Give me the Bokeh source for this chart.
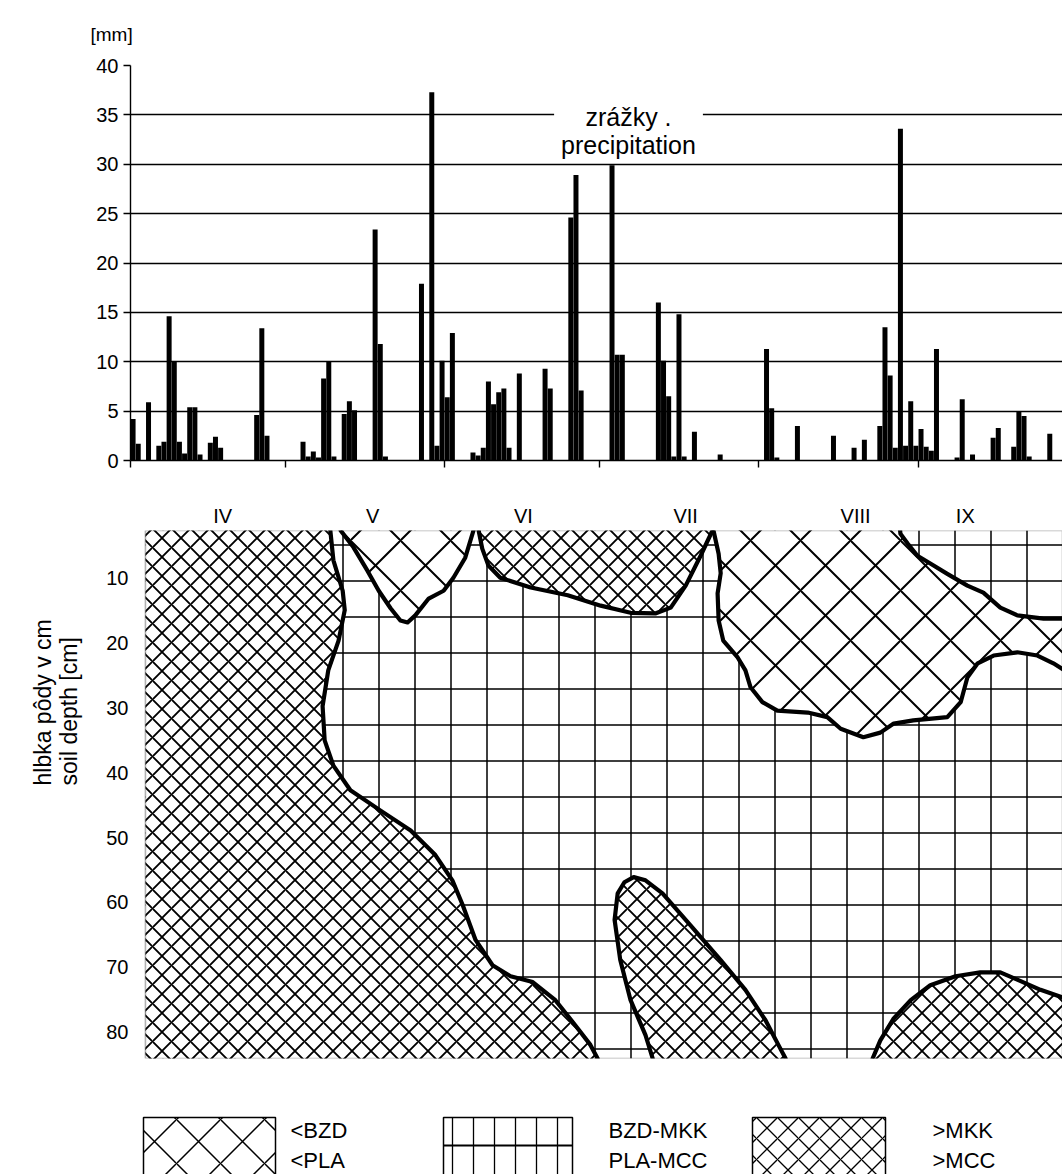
from bokeh.plotting import figure
from bokeh.models import (Range1d, FixedTicker, Label, BoxAnnotation, ColumnDataSource,
                          Title)
from bokeh.layouts import column
from bokeh.transform import dodge
from bokeh.core.properties import value
from bokeh.embed import file_html
from bokeh.resources import INLINE

FONT = "Liberation Sans"

# ---------------- data: daily precipitation (day 0 = 1 April) ----------------
rain_day = [0, 1, 3, 5, 6, 7, 8, 9, 10, 11, 12, 13, 15, 16, 17, 24, 25, 26,
            33, 34, 35, 36, 37, 38, 39, 41, 42, 43, 47, 48, 49, 56, 58, 59, 60,
            61, 62, 66, 67, 68, 69, 70, 71, 72, 73, 75, 80, 81, 85, 86, 87, 93,
            94, 95, 102, 103, 104, 105, 106, 107, 109, 114, 123, 124, 125, 129,
            136, 140, 142, 145, 146, 147, 148, 149, 150, 151, 152, 153, 154,
            155, 156, 160, 161, 163, 167, 168, 171, 172, 173, 174, 178]
rain_mm = [4.2, 1.7, 5.9, 1.5, 1.9, 14.6, 10.0, 1.9, 0.7, 5.4, 5.4, 0.6, 1.8,
           2.4, 1.3, 4.6, 13.4, 2.5, 1.9, 0.4, 0.9, 0.3, 8.3, 10.0, 0.4, 4.7,
           6.0, 5.1, 23.4, 11.8, 0.4, 17.9, 37.3, 1.5, 10.1, 6.4, 12.9, 0.8,
           0.5, 1.3, 8.0, 5.7, 6.9, 7.3, 1.3, 8.8, 9.3, 7.3, 24.6, 28.9, 7.1,
           29.9, 10.7, 10.7, 16.0, 10.1, 6.5, 0.4, 14.8, 0.4, 2.9, 0.6, 11.3,
           5.3, 0.3, 3.5, 2.5, 1.3, 2.1, 3.5, 13.5, 8.6, 1.3, 33.6, 1.5, 6.0,
           1.5, 3.2, 1.4, 1.0, 11.3, 0.3, 6.2, 0.6, 2.3, 3.3, 1.4, 4.9, 4.5,
           0.4, 2.7]
month_start_days = [0, 30, 61, 91, 122, 153]
rain_ticks = [0, 5, 10, 15, 20, 25, 30, 35, 40]

# ---------------- data: soil depth zones ----------------
depth_ticks = [10, 20, 30, 40, 50, 60, 70, 80]
month_labels = ["IV", "V", "VI", "VII", "VIII", "IX"]
month_label_days = [17.9, 47.0, 76.3, 107.8, 140.8, 162.1]
box_start_day = 2.9

# >MKK / >MCC zones (day, depth)
zoneA_day = [2.9, 38.6, 38.8, 39.4, 41.2, 41.6, 40.4, 38.4, 37.3, 37.7, 39.4, 42.7,
             48.5, 54.4, 59.2, 62.5, 64.5, 67.0, 70.3, 73.8, 78.1, 82.5, 86.4,
             89.3, 90.7, 92.0, 2.9]
zoneA_depth = [-2, -2, 2.6, 7.2, 11.9, 14.9, 19.6, 24.2, 29.7, 35.0, 38.9, 42.7,
               45.8, 48.9, 52.7, 56.6, 60.4, 65.8, 69.7, 71.4, 72.3, 75.1, 79.0,
               82.0, 84.1, 90, 90]
zoneC_day = [67.4, 67.6, 68.3, 69.5, 71.8, 77.7, 84.9, 91.3, 97.1, 101.9, 104.9,
             107.8, 110.7, 113.0, 113.4]
zoneC_depth = [-2, 2.6, 5.4, 8.0, 9.9, 11.4, 12.6, 14.2, 15.3, 15.4, 14.5, 11.1,
               6.5, 2.6, -2]
zoneE_day = [101.6, 101.4, 100.0, 97.1, 95.1, 94.0, 94.6, 95.9, 97.7, 100.0,
             103.3, 108.7, 114.6, 119.4, 123.3, 125.8, 127.2, 127.8]
zoneE_depth = [90, 84.1, 80.5, 75.1, 68.9, 62.7, 58.6, 56.9, 56.1, 56.6, 58.6,
               63.5, 68.9, 73.5, 78.2, 82.0, 84.1, 90]
zoneF_day = [143.6, 144.1, 145.6, 148.2, 151.5, 155.3, 160.2, 165.0, 168.9,
             172.4, 176.7, 181.4, 185, 185]
zoneF_depth = [90, 84.1, 81.3, 77.9, 75.1, 72.8, 71.4, 70.8, 70.8, 72.0, 73.5,
               74.8, 76, 90]

# <BZD / <PLA zones
zoneB_day = [40.6, 40.8, 43.3, 46.0, 48.2, 50.5, 52.4, 53.8, 55.3, 57.9, 60.8,
             62.7, 65.0, 66.6, 67.0]
zoneB_depth = [-2, 2.6, 5.2, 8.8, 11.9, 14.6, 16.5, 16.8, 15.7, 13.1, 11.9, 9.9,
               6.8, 2.6, -2]
zoneD_day = [113.0, 113.2, 114.2, 114.6, 114.0, 114.2, 115.1, 117.9, 119.4, 120.4,
             122.7, 125.6, 131.5, 135.3, 137.9, 142.3, 145.6, 148.2, 152.0, 158.6,
             161.2, 162.5, 164.5, 167.6, 172.2, 176.1, 179.2, 181.4, 185, 185,
             181.4, 177.3, 172.2, 168.9, 165.6, 162.5, 158.6, 155.3, 152.8, 150.9,
             149.5, 148.9]
zoneD_depth = [-2, 2.6, 6.2, 9.2, 12.3, 16.5, 19.6, 22.2, 24.2, 26.8, 29.1, 30.4,
               30.7, 31.4, 33.2, 34.5, 33.8, 32.4, 31.9, 31.4, 29.1, 25.3, 23.1,
               21.9, 21.4, 21.9, 23.1, 24.2, 26, 16.2, 16.2, 16.2, 15.7, 14.5,
               12.2, 11.1, 9.3, 7.7, 6.5, 4.6, 3.1, -2]

legend_line1 = ["<BZD", "BZD-MKK", ">MKK"]
legend_line2 = ["<PLA", "PLA-MCC", ">MCC"]

W = 1062
LEFT = 130

# ---------------- top: precipitation ----------------
p1 = figure(width=W, height=490, x_range=Range1d(0, (W - LEFT) / 5.15),
            y_range=Range1d(0, 40), title="[mm]",
            output_backend="svg", toolbar_location=None,
            min_border_left=LEFT, min_border_right=0, min_border_top=65,
            min_border_bottom=30)
p1.title.align = "left"
p1.title.offset = -40
p1.title.standoff = 41
p1.title.text_font = FONT
p1.title.text_font_size = "19px"
p1.title.text_font_style = "normal"
p1.title.text_color = "black"
p1.outline_line_color = None
p1.background_fill_color = "white"
src = ColumnDataSource(dict(day=rain_day, mm=rain_mm))
p1.vbar(x=dodge("day", 0.5, range=p1.x_range), top="mm", bottom=0, width=0.97,
        source=src, fill_color="black", line_color=None)

p1.xgrid.visible = False
p1.ygrid.grid_line_color = "black"
p1.ygrid.grid_line_width = 1.4
p1.yaxis.ticker = FixedTicker(ticks=rain_ticks)
p1.yaxis.major_label_text_font = FONT
p1.yaxis.major_label_text_font_size = "20px"
p1.yaxis.major_label_text_color = "black"
p1.yaxis.major_tick_out = 7
p1.yaxis.major_tick_in = 0
p1.yaxis.minor_tick_out = 0
p1.yaxis.minor_tick_in = 0
p1.yaxis.axis_line_color = "black"
p1.yaxis.axis_line_width = 1.4
p1.yaxis.major_tick_line_width = 1.4
p1.xaxis.ticker = FixedTicker(ticks=month_start_days)
p1.xaxis.major_label_overrides = {d: " " for d in month_start_days}
p1.xaxis.major_label_text_font_size = "8px"
p1.xaxis.major_tick_out = 7
p1.xaxis.major_tick_in = 0
p1.xaxis.minor_tick_out = 0
p1.xaxis.axis_line_color = "black"
p1.xaxis.axis_line_width = 1.6
p1.xaxis.major_tick_line_width = 1.4

p1.add_layout(Label(x=96.7, y=33.4, text="zrážky .\nprecipitation", text_font=FONT,
                    text_font_size="25px", text_align="center", text_baseline="middle",
                    text_line_height=1.0, text_color="black",
                    background_fill_color="white",
                    padding=dict(left=7, right=7, top=3, bottom=3)))

# ---------------- bottom: soil depth zones ----------------
p2 = figure(width=W, height=585, x_range=Range1d(0, (W - LEFT) / 5.15),
            y_range=Range1d(84.1, 2.6), x_axis_location="above",
            output_backend="svg", toolbar_location=None, title=None,
            min_border_left=LEFT, min_border_right=0, min_border_top=40,
            min_border_bottom=17)
p2.background_fill_color = "white"
p2.grid.visible = False
p2.outline_line_color = None

p2.add_layout(BoxAnnotation(left=box_start_day, fill_color=None, fill_alpha=0,
                            line_color=None, hatch_pattern="cross", hatch_scale=36,
                            hatch_weight=1.5, hatch_color="black", level="underlay"))

dense_xs = [zoneA_day, zoneC_day, zoneE_day, zoneF_day]
dense_ys = [zoneA_depth, zoneC_depth, zoneE_depth, zoneF_depth]
p2.patches(xs=dense_xs, ys=dense_ys, fill_color="white", hatch_pattern="diagonal_cross",
           hatch_scale=19, hatch_weight=1.9, hatch_color="black", line_color=None)
p2.patches(xs=[zoneB_day, zoneD_day], ys=[zoneB_depth, zoneD_depth],
           fill_color="white", hatch_pattern="diagonal_cross", hatch_scale=50,
           hatch_weight=2, hatch_color="black", line_color=None)
# zone boundaries (A without its closing edge along the box side)
p2.multi_line(xs=[zoneA_day[1:-1], zoneB_day, zoneC_day, zoneD_day, zoneE_day, zoneF_day],
              ys=[zoneA_depth[1:-1], zoneB_depth, zoneC_depth, zoneD_depth, zoneE_depth,
                  zoneF_depth],
              line_color="black", line_width=4.2, line_join="round")
p2.add_layout(BoxAnnotation(left=box_start_day, fill_color=None, fill_alpha=0,
                            line_color="black", line_width=1.6, level="overlay"))

p2.xaxis.ticker = FixedTicker(ticks=month_label_days)
p2.xaxis.major_label_overrides = {d: m for d, m in zip(month_label_days, month_labels)}
p2.xaxis.major_label_text_font = FONT
p2.xaxis.major_label_text_font_size = "20px"
p2.xaxis.major_label_text_color = "black"
p2.xaxis.major_tick_out = 0
p2.xaxis.major_tick_in = 0
p2.xaxis.minor_tick_out = 0
p2.xaxis.minor_tick_in = 0
p2.xaxis.axis_line_color = None
p2.xaxis.major_label_standoff = 4

p2.yaxis.ticker = FixedTicker(ticks=depth_ticks)
p2.yaxis.major_label_text_font = FONT
p2.yaxis.major_label_text_font_size = "20px"
p2.yaxis.major_label_text_color = "black"
p2.yaxis.major_tick_out = 0
p2.yaxis.major_tick_in = 0
p2.yaxis.minor_tick_out = 0
p2.yaxis.minor_tick_in = 0
p2.yaxis.axis_line_color = None
p2.yaxis.major_label_standoff = 2

p2.add_layout(Title(text="hlbka pôdy v cm\nsoil depth [cm]", align="left", offset=273,
                    standoff=43, text_font=FONT, text_font_size="23px",
                    text_font_style="normal", text_color="black"), "left")

# ---------------- legend ----------------
LH = 99
p3 = figure(width=W, height=LH, x_range=Range1d(LEFT, W), y_range=Range1d(0, LH),
            output_backend="svg", toolbar_location=None, title=None,
            x_axis_type=None, y_axis_type=None,
            min_border_left=LEFT, min_border_right=0, min_border_top=0, min_border_bottom=0)
p3.outline_line_color = None
p3.grid.visible = False
p3.quad(left=[143], right=[275], top=[57], bottom=[-3], fill_color="white",
        hatch_pattern="diagonal_cross", hatch_scale=44, hatch_weight=1.5,
        hatch_color="black", line_color="black", line_width=1.5)
p3.quad(left=[443], right=[572], top=[57], bottom=[-3], fill_color="white",
        hatch_pattern="vertical_line", hatch_scale=21, hatch_weight=1.3,
        hatch_color="black", line_color="black", line_width=1.5)
p3.segment(x0=[443], y0=[29], x1=[572], y1=[29], line_color="black", line_width=1.8)
p3.quad(left=[752], right=[885], top=[57], bottom=[-3], fill_color="white",
        hatch_pattern="diagonal_cross", hatch_scale=21, hatch_weight=1.3,
        hatch_color="black", line_color="black", line_width=1.5)
p3.text(x=[290, 608, 932], y=[44, 44, 44], text=legend_line1, text_font=value(FONT),
        text_font_size="22px", text_baseline="middle", text_align="left",
        text_color="black")
p3.text(x=[290, 608, 932], y=[14, 14, 14], text=legend_line2, text_font=value(FONT),
        text_font_size="22px", text_baseline="middle", text_align="left",
        text_color="black")

layout = column(p1, p2, p3, spacing=0)
open("out.html", "w").write(file_html(layout, INLINE))
